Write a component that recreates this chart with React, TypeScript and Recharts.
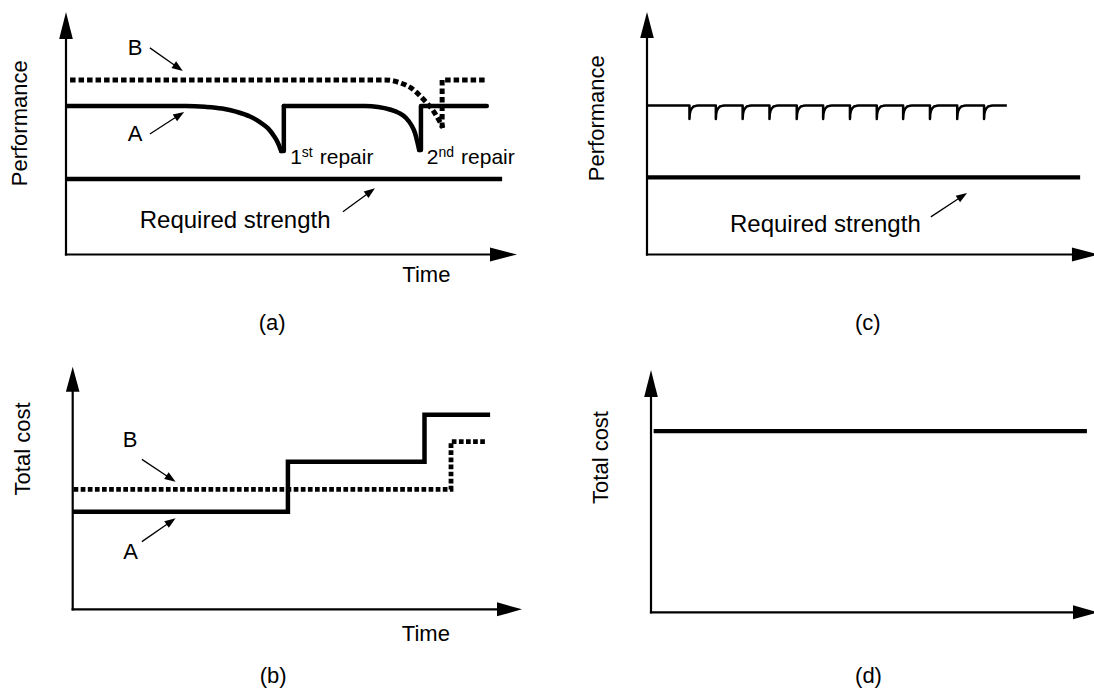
import React from 'react';
import { LineChart, Line, XAxis, YAxis, ReferenceLine, ReferenceDot } from 'recharts';

const FONT = '"Liberation Sans", Arial, Helvetica, sans-serif';

// ---------- Panel (a): performance vs time, strategies A and B ----------
const aRequired = [{ t: 0, v: 31.1 }, { t: 96.7, v: 31.1 }];
const aA1 = [{ t: 0, v: 61.2 }, { t: 26.6, v: 61.2 }, { t: 30.8, v: 60.9 }, { t: 34.6, v: 60.2 }, { t: 37.9, v: 58.8 }, { t: 40.8, v: 56.9 }, { t: 43.0, v: 54.6 }, { t: 44.8, v: 52.0 }, { t: 46.1, v: 48.9 }, { t: 47.0, v: 46.0 }, { t: 47.7, v: 42.7 }];
const aA2 = [{ t: 47.7, v: 42.7 }, { t: 48.3, v: 42.7 }, { t: 48.3, v: 61.2 }];
const aA3 = [{ t: 48.3, v: 61.2 }, { t: 66.3, v: 61.2 }, { t: 69.2, v: 60.8 }, { t: 71.8, v: 59.8 }, { t: 73.8, v: 58.4 }, { t: 75.4, v: 56.3 }, { t: 76.5, v: 53.6 }, { t: 77.4, v: 50.0 }, { t: 77.9, v: 46.4 }, { t: 78.3, v: 43.1 }];
const aA4 = [{ t: 78.3, v: 43.1 }, { t: 78.7, v: 43.1 }, { t: 78.7, v: 61.2 }, { t: 93.3, v: 61.2 }];
const aB1 = [{ t: 0.9, v: 72 }, { t: 70.7, v: 72 }, { t: 74.2, v: 70.7 }, { t: 76.5, v: 68.7 }, { t: 79.4, v: 63.7 }, { t: 81.6, v: 58.8 }, { t: 83.6, v: 52.2 }];
const aB2 = [{ t: 83.4, v: 52.2 }, { t: 83.4, v: 72 }, { t: 93.1, v: 72 }];
const aArrowB = [{ x: 18.6, y: 85.2 }, { x: 25.9, y: 75.7 }];
const aArrowA = [{ x: 18.6, y: 49.7 }, { x: 26.2, y: 58.8 }];
const aArrowReq = [{ x: 61.4, y: 17.6 }, { x: 68.5, y: 27.3 }];

// ---------- Panel (b): total cost vs time ----------
const bA = [{ t: 0, v: 40.2 }, { t: 47.9, v: 60.8 }, { t: 78.3, v: 80.2 }, { t: 92.9, v: 80.2 }];
const bB = [{ t: 0.2, v: 49.4 }, { t: 84.2, v: 69.1 }, { t: 91.8, v: 69.1 }];
const bArrowB = [{ x: 15.4, y: 61.8 }, { x: 22.9, y: 52.6 }];
const bArrowA = [{ x: 15.4, y: 27.9 }, { x: 22.9, y: 37.5 }];

// ---------- Panel (c): frequent small repairs ----------
const cRequired = [{ t: 0, v: 31.8 }, { t: 96.9, v: 31.8 }];
const cLevel = 61.4;
const cEnd = 80.5;
const cToothTimes = [9.5, 15.4, 21.4, 27.4, 33.5, 39.4, 45.4, 51.4, 57.3, 63.3, 69.4, 75.4];
const cToothBottom = 55.9;
const cToothProfile = [{ dt: 0.07, v: 57.9 }, { dt: 0.22, v: 59.2 }, { dt: 0.49, v: 60.2 }, { dt: 0.89, v: 61.0 }, { dt: 1.45, v: 61.3 }, { dt: 2.0, v: 61.4 }];
const cArrowReq = [{ x: 63.5, y: 15.5 }, { x: 71.6, y: 25.4 }];

// ---------- Panel (d): constant total cost ----------
const dCost = [{ t: 0.6, v: 74.8 }, { t: 98.4, v: 74.8 }];

// sawtooth series assembled from the read tooth positions and tooth profile
const cSaw: { t: number; v: number }[] = [{ t: 0, v: cLevel }];
cToothTimes.forEach((x0) => {
  cSaw.push({ t: x0, v: cLevel });
  cSaw.push({ t: x0, v: cToothBottom });
  cToothProfile.forEach((p) => cSaw.push({ t: x0 + p.dt, v: p.v }));
});
cSaw.push({ t: cEnd, v: cLevel });

function makeArrow(head: number, half: number, sw: number, cap: 'butt' | 'square' = 'butt') {
  return (p: any) => {
    const x1 = Number(p.x1), y1 = Number(p.y1), x2 = Number(p.x2), y2 = Number(p.y2);
    if ([x1, y1, x2, y2].some((v) => !isFinite(v))) return <g />;
    const dx = x2 - x1, dy = y2 - y1;
    const len = Math.hypot(dx, dy) || 1;
    const ux = dx / len, uy = dy / len;
    const bx = x2 - ux * head, by = y2 - uy * head;
    const nx = -uy * half, ny = ux * half;
    return (
      <g>
        <line x1={x1} y1={y1} x2={bx + ux} y2={by + uy} stroke="#000" strokeWidth={sw} strokeLinecap={cap} />
        <polygon points={`${x2},${y2} ${bx + nx},${by + ny} ${bx - nx},${by - ny}`} fill="#000" />
      </g>
    );
  };
}

function textShape(content: string, size: number, anchor: string = 'middle', rotate = false) {
  return (p: any) => (
    <text
      x={p.cx}
      y={p.cy}
      fontFamily={FONT}
      fontSize={size}
      fill="#000"
      textAnchor={anchor}
      dominantBaseline={rotate ? 'central' : undefined}
      transform={rotate ? `rotate(-90 ${p.cx} ${p.cy})` : undefined}
    >
      {content}
    </text>
  );
}

function repairShape(num: string, sup: string) {
  return (p: any) => (
    <text x={p.cx} y={p.cy} fontFamily={FONT} fontSize={21} fill="#000">
      <tspan>{num}</tspan>
      <tspan fontSize={14} dy={-7}>{sup}</tspan>
      <tspan dy={7} dx={7}>repair</tspan>
    </text>
  );
}

const lineProps = { stroke: '#000', dot: false, activeDot: false, isAnimationActive: false, dataKey: 'v', legendType: 'none' as const };

function axes(xEnd: number, headX: number, headY: number) {
  return [
    <ReferenceLine key="ax" segment={[{ x: 0, y: 0 }, { x: xEnd, y: 0 }]} ifOverflow="visible" shape={makeArrow(headX, 7, 2.2, 'square')} />,
    <ReferenceLine key="ay" segment={[{ x: 0, y: 0 }, { x: 0, y: 100 }]} ifOverflow="visible" shape={makeArrow(headY, 6.8, 2.2, 'square')} />,
  ];
}

function dot(key: string, x: number, y: number, shape: any) {
  return <ReferenceDot key={key} x={x} y={y} r={0} ifOverflow="visible" shape={shape} />;
}

function thinArrow(key: string, seg: { x: number; y: number }[]) {
  return <ReferenceLine key={key} segment={seg} ifOverflow="visible" shape={makeArrow(11, 4, 1.3)} />;
}

function Panel({ left, top, width, height, margin, children }: any) {
  return (
    <div style={{ position: 'absolute', left, top, width, height }}>
      <LineChart width={width} height={height} margin={margin}>
        <XAxis type="number" dataKey="t" domain={[0, 100]} allowDataOverflow hide />
        <YAxis type="number" domain={[0, 100]} allowDataOverflow hide />
        {children}
      </LineChart>
    </div>
  );
}

export default function App() {
  return (
    <div style={{ position: 'absolute', left: 0, top: 0, width: 1094, height: 688, background: '#fff', overflow: 'hidden' }}>
      {/* (a) */}
      <Panel left={0} top={0} width={540} height={340} margin={{ top: 12, left: 66, right: 23, bottom: 85.5 }}>
        {axes(100, 27, 27)}
        <Line data={aRequired} type="linear" strokeWidth={4.5} {...lineProps} />
        <Line data={aA1} type="monotone" strokeWidth={4.5} strokeLinecap="round" {...lineProps} />
        <Line data={aA2} type="linear" strokeWidth={4.5} strokeLinecap="round" strokeLinejoin="round" {...lineProps} />
        <Line data={aA3} type="monotone" strokeWidth={4.5} strokeLinecap="round" {...lineProps} />
        <Line data={aA4} type="linear" strokeWidth={4.5} strokeLinecap="round" strokeLinejoin="round" {...lineProps} />
        <Line data={aB1} type="monotone" strokeWidth={5} strokeDasharray="5.5 3" {...lineProps} />
        <Line data={aB2} type="linear" strokeWidth={5} strokeDasharray="5.5 3" {...lineProps} />
        {thinArrow('ab', aArrowB)}
        {thinArrow('aa', aArrowA)}
        {thinArrow('ar', aArrowReq)}
        {dot('tB', 15.3, 82.1, textShape('B', 22))}
        {dot('tA', 15.3, 47.0, textShape('A', 22))}
        {dot('r1', 49.7, 37.3, repairShape('1', 'st'))}
        {dot('r2', 80.0, 37.3, repairShape('2', 'nd'))}
        {dot('rq', 37.5, 10.9, textShape('Required strength', 24))}
        {dot('tm', 79.9, -11.3, textShape('Time', 22))}
        {dot('pf', -10.3, 54.1, textShape('Performance', 22, 'middle', true))}
        {dot('cap', 45.7, -31.1, textShape('(a)', 22))}
      </Panel>

      {/* (b) */}
      <Panel left={0} top={340} width={540} height={348} margin={{ top: 26.7, left: 72.7, right: 18, bottom: 78.7 }}>
        {axes(100, 25, 25)}
        <Line data={bA} type="stepAfter" strokeWidth={4.5} {...lineProps} />
        <Line data={bB} type="stepAfter" strokeWidth={4.8} strokeDasharray="4.7 2.4" {...lineProps} />
        {thinArrow('bb', bArrowB)}
        {thinArrow('ba', bArrowA)}
        {dot('tB', 12.8, 66.9, textShape('B', 22))}
        {dot('tA', 12.9, 20.7, textShape('A', 22))}
        {dot('tm', 78.6, -13.1, textShape('Time', 22))}
        {dot('tc', -11.1, 66.1, textShape('Total cost', 22, 'middle', true))}
        {dot('cap', 44.6, -30.2, textShape('(b)', 22))}
      </Panel>

      {/* (c) */}
      <Panel left={540} top={0} width={554} height={340} margin={{ top: 12, left: 107, right: 0, bottom: 85.5 }}>
        {axes(101.1, 27, 26)}
        <Line data={cRequired} type="linear" strokeWidth={4.2} {...lineProps} />
        <Line data={cSaw} type="linear" strokeWidth={2.5} strokeLinejoin="round" {...lineProps} />
        {thinArrow('cr', cArrowReq)}
        {dot('rq', 39.9, 9.3, textShape('Required strength', 24))}
        {dot('pf', -11.3, 56.2, textShape('Performance', 22, 'middle', true))}
        {dot('cap', 49.4, -31.1, textShape('(c)', 22))}
      </Panel>

      {/* (d) */}
      <Panel left={540} top={340} width={554} height={348} margin={{ top: 30, left: 111, right: 0, bottom: 75.7 }}>
        {axes(100.9, 25, 27)}
        <Line data={dCost} type="linear" strokeWidth={4.3} {...lineProps} />
        {dot('tc', -11.5, 63.9, textShape('Total cost', 22, 'middle', true))}
        {dot('cap', 49.1, -29.0, textShape('(d)', 22))}
      </Panel>
    </div>
  );
}
